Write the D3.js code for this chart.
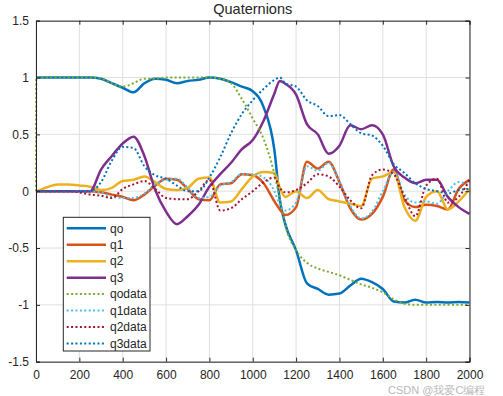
<!DOCTYPE html>
<html>
<head>
<meta charset="utf-8">
<script src="https://cdn.jsdelivr.net/npm/d3@7/dist/d3.min.js"></script>
<style>
  html, body { margin: 0; padding: 0; background: #fff; }
  svg text { font-family: "Liberation Sans", Arial, Helvetica, sans-serif; fill: #262626; }
</style>
</head>
<body>
<div class="graphic"><div class="graphic__vis"></div></div>
<script>
// sample times (shared by every series)
var T = [0, 1, 50, 100, 150, 200, 250, 300, 350, 400, 450, 500, 550, 600, 650, 700, 750, 800,
  850, 900, 950, 1000, 1050, 1100, 1125, 1150, 1200, 1250, 1300, 1350, 1400, 1450, 1500,
  1550, 1600, 1650, 1700, 1750, 1800, 1850, 1900, 1950, 2000]

// estimated quaternion
var q0 = [1, 1, 1, 1, 1, 1, 1, 0.99, 0.95, 0.91, 0.87, 0.95, 0.99, 0.98, 0.95, 0.97, 0.98, 1.0,
  0.99, 0.96, 0.92, 0.88, 0.74, 0.36, -0.08, -0.29, -0.52, -0.81, -0.86, -0.91, -0.90, -0.83, -0.77,
  -0.80, -0.86, -0.97, -0.98, -0.955, -0.98, -0.975, -0.98, -0.975, -0.98]
var q1 = [0, 0, 0, 0, 0, 0, 0, -0.01, -0.03, -0.05, -0.08, -0.03, 0.05, 0.11, 0.10, 0.02, -0.07, -0.08,
  0.06, 0.07, 0.15, 0.14, 0.07, -0.09, -0.16, -0.21, -0.14, 0.26, 0.20, 0.26, 0.08, -0.15, -0.25,
  -0.20, -0.05, 0.19, -0.08, -0.14, -0.12, -0.13, -0.16, 0.02, 0.10]
var q2 = [0, 0, 0.035, 0.06, 0.06, 0.05, 0.04, 0.01, 0.03, 0.09, 0.10, 0.13, 0.08, 0.02, 0.01, 0.03, 0.11, 0.12,
  -0.10, -0.09, 0.02, 0.13, 0.17, 0.16, 0.03, -0.05, 0.0, -0.06, 0.01, -0.07, -0.09, -0.11, -0.13,
  0.11, 0.13, 0.17, -0.14, -0.26, -0.05, 0.0, -0.16, -0.09, 0.02]
var q3 = [0, 0, 0, 0, 0, 0, 0, 0.19, 0.31, 0.42, 0.48, 0.31, 0.01, -0.18, -0.29, -0.22, -0.12, 0.04,
  0.15, 0.25, 0.37, 0.45, 0.62, 0.86, 0.97, 0.945, 0.85, 0.59, 0.50, 0.33, 0.40, 0.58, 0.545,
  0.58, 0.50, 0.22, 0.12, 0.07, 0.10, 0.10, -0.05, -0.14, -0.2]

// reference data
var q0data = [0, 1, 1, 1, 1, 1, 1, 0.99, 0.95, 0.92, 0.95, 0.99, 0.99, 1, 1, 1, 1, 1,
  0.99, 0.95, 0.81, 0.64, 0.46, 0.15, -0.07, -0.30, -0.52, -0.63, -0.68, -0.71, -0.74, -0.78, -0.82,
  -0.85, -0.89, -0.95, -0.99, -1.0, -1.0, -1.0, -1.0, -1.0, -1.0]
var q1data = [0, 0, 0, 0, 0, 0, 0, -0.01, -0.05, -0.06, -0.06, -0.02, 0.06, 0.10, 0.11, 0.03, -0.06, -0.05,
  0.05, 0.08, 0.15, 0.15, 0.12, 0.0, -0.12, -0.17, -0.10, 0.22, 0.18, 0.25, 0.08, -0.13, -0.24,
  -0.18, 0.0, 0.17, -0.03, -0.10, -0.09, -0.11, 0.0, 0.08, 0.05]
var q2data = [0, 0, 0, 0, 0, -0.01, -0.03, -0.04, -0.06, 0.02, 0.06, 0.09, 0.02, -0.06, -0.07, -0.07, 0.0, 0.10,
  -0.17, -0.15, -0.07, 0.0, 0.08, 0.12, 0.03, -0.01, 0.01, 0.07, 0.15, 0.13, 0.04, -0.08, -0.15,
  0.14, 0.19, 0.15, -0.05, -0.22, 0.05, 0.11, -0.10, -0.05, 0.10]
var q3data = [0, 0, 0, 0, 0, 0, 0, 0.08, 0.27, 0.39, 0.38, 0.22, 0.14, 0.11, 0.05, 0.0, 0.0, 0.12,
  0.30, 0.51, 0.68, 0.80, 0.90, 0.98, 1.0, 0.95, 0.92, 0.80, 0.75, 0.66, 0.67, 0.59, 0.51,
  0.49, 0.40, 0.24, 0.16, 0.07, 0.02, 0.0, -0.02, 0.01, 0.02]

var names = ['qo', 'q1', 'q2', 'q3', 'qodata', 'q1data', 'q2data', 'q3data']
var colors = ['#0072BD', '#D95319', '#EDB120', '#7E2F8E', '#77AC30', '#4DBEEE', '#A2142F', '#0072BD']
var xTicks = [0, 200, 400, 600, 800, 1000, 1200, 1400, 1600, 1800, 2000]
var yTicks = [-1.5, -1, -0.5, 0, 0.5, 1, 1.5]

var width = 503
var height = 396
var plot = { left: 36, right: 469.5, top: 20.7, bottom: 361.7 }

var svg = d3.select('.graphic__vis').append('svg')
  .attr('width', width)
  .attr('height', height)

svg.append('rect').attr('width', width).attr('height', height).attr('fill', '#fff')

var x = d3.scaleLinear().domain([0, 2000]).range([plot.left, plot.right])
var y = d3.scaleLinear().domain([-1.5, 1.5]).range([plot.bottom, plot.top])

// grid
var grid = svg.append('g').attr('stroke', '#dfdfdf').attr('stroke-width', 1)
xTicks.forEach(function(t) {
  grid.append('line').attr('x1', x(t)).attr('x2', x(t)).attr('y1', plot.top).attr('y2', plot.bottom)
})
yTicks.forEach(function(t) {
  grid.append('line').attr('x1', plot.left).attr('x2', plot.right).attr('y1', y(t)).attr('y2', y(t))
})

// series
var series = [q0, q1, q2, q3, q0data, q1data, q2data, q3data]
var line = d3.line()
  .x(function(d) { return x(d[0]) })
  .y(function(d) { return y(d[1]) })
  .curve(d3.curveMonotoneX)

var lines = svg.append('g').attr('fill', 'none')
series.forEach(function(s, i) {
  var pts = T.map(function(t, k) { return [t, s[k]] })
  var p = lines.append('path')
    .attr('d', line(pts))
    .attr('stroke', colors[i])
    .attr('stroke-linejoin', 'round')
  if (i < 4) {
    p.attr('stroke-width', 2.5)
  } else {
    p.attr('stroke-width', 2).attr('stroke-dasharray', '2,2.4')
  }
})

// axes (inward ticks on all four sides)
var axisColor = '#262626'
svg.append('g')
  .attr('transform', 'translate(0,' + plot.bottom + ')')
  .call(d3.axisBottom(x).tickValues(xTicks).tickSize(-4).tickPadding(9).tickFormat(d3.format('d')))
svg.append('g')
  .attr('transform', 'translate(0,' + plot.top + ')')
  .call(d3.axisTop(x).tickValues(xTicks).tickSize(-4).tickFormat(''))
svg.append('g')
  .attr('transform', 'translate(' + plot.left + ',0)')
  .call(d3.axisLeft(y).tickValues(yTicks).tickSize(-4).tickPadding(7).tickFormat(function(d) { return d }))
svg.append('g')
  .attr('transform', 'translate(' + plot.right + ',0)')
  .call(d3.axisRight(y).tickValues(yTicks).tickSize(-4).tickFormat(''))

svg.selectAll('.domain').attr('stroke', axisColor)
svg.selectAll('.tick line').attr('stroke', axisColor)
svg.selectAll('.tick text').attr('font-size', '12px').attr('fill', axisColor)
  .style('font-family', '"Liberation Sans", Arial, sans-serif')

// title
svg.append('text')
  .attr('x', (plot.left + plot.right) / 2)
  .attr('y', 14)
  .attr('text-anchor', 'middle')
  .attr('font-size', '14.5px')
  .text('Quaternions')

// legend
var lg = svg.append('g').attr('transform', 'translate(63.3,217.3)')
lg.append('rect')
  .attr('width', 86.7).attr('height', 133.7)
  .attr('fill', '#fff').attr('stroke', axisColor).attr('stroke-width', 1)
names.forEach(function(n, i) {
  var ly = 11 + i * 16.45
  var l = lg.append('line')
    .attr('x1', 3.4).attr('x2', 42.7).attr('y1', ly).attr('y2', ly)
    .attr('stroke', colors[i])
  if (i < 4) l.attr('stroke-width', 2.5)
  else l.attr('stroke-width', 2).attr('stroke-dasharray', '2,2.4')
  lg.append('text')
    .attr('x', 46.7).attr('y', ly + 4.3)
    .attr('font-size', '12px')
    .text(n)
})

// source watermark, kept just below the tick labels
svg.append('text')
  .attr('x', 388).attr('y', 394)
  .attr('font-size', '11px')
  .attr('opacity', 0.6)
  .style('fill', '#8a8a8a')
  .text('CSDN @我爱C编程')
</script>
</body>
</html>
